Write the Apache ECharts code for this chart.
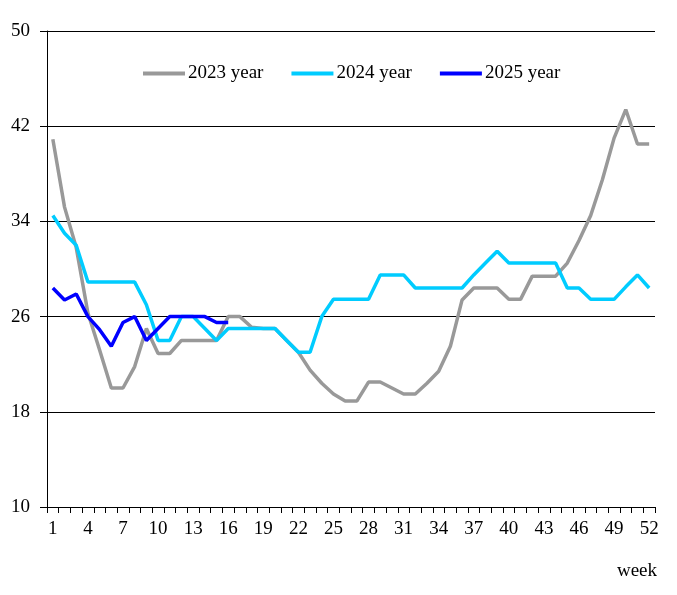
<!DOCTYPE html>
<html>
<head>
<meta charset="utf-8">
<title>Weekly chart</title>
<script src="https://cdn.jsdelivr.net/npm/echarts@6/dist/echarts.min.js"></script>
<style>
  html, body { margin: 0; padding: 0; background: #fff; }
  #chartmain { width: 677px; height: 595px; }
</style>
</head>
<body>
<div id="chartmain"></div>
<script>
var weeks = [];
for (var w = 1; w <= 52; w++) { weeks.push(String(w)); }

var year2023 = [40.9, 35.2, 31.8, 26.3, 23.2, 20.0, 20.0, 21.8, 25.0, 22.9, 22.9, 24.0, 24.0, 24.0, 24.0, 26.0,
    26.0, 25.1, 25.0, 25.0, 24.0, 23.0, 21.5, 20.4, 19.5, 18.9, 18.9, 20.5, 20.5, 20.0, 19.5, 19.5,
    20.4, 21.4, 23.5, 27.4, 28.4, 28.4, 28.4, 27.45, 27.45, 29.4, 29.4, 29.4, 30.5, 32.4, 34.5, 37.5,
    41.0, 43.4, 40.5, 40.5];
var year2024 = [34.5, 33.0, 32.0, 28.9, 28.9, 28.9, 28.9, 28.9, 27.0, 24.0, 24.0, 26.0, 26.0, 25.0, 24.0, 25.0,
    25.0, 25.0, 25.0, 25.0, 24.0, 23.0, 23.0, 26.0, 27.45, 27.45, 27.45, 27.45, 29.5, 29.5, 29.5, 28.4,
    28.4, 28.4, 28.4, 28.4, 29.5, 30.5, 31.5, 30.5, 30.5, 30.5, 30.5, 30.5, 28.4, 28.4, 27.45, 27.45,
    27.45, 28.5, 29.5, 28.4];
var year2025 = [28.4, 27.4, 27.9, 26.0, 24.9, 23.5, 25.5, 26.0, 24.0, 25.0, 26.0, 26.0, 26.0, 26.0, 25.5, 25.5];

var seriesNames = ['2023 year', '2024 year', '2025 year'];
var seriesColors = ['#999999', '#00CCFF', '#0000FF'];

var font = '"Liberation Serif", "Times New Roman", serif';

var chart = echarts.init(document.getElementById('chartmain'), null, { renderer: 'canvas' });

function lineSeries(idx, data) {
    return {
        name: seriesNames[idx],
        type: 'line',
        data: data,
        symbol: 'none',
        z: 2 + idx,
        lineStyle: { width: 3.5, color: seriesColors[idx] },
        itemStyle: { color: seriesColors[idx] }
    };
}

chart.setOption({
    animation: false,
    textStyle: { fontFamily: font },
    grid: { left: 47, right: 22, top: 31, bottom: 88, containLabel: false },
    legend: {
        data: seriesNames,
        left: 143,
        top: 64,
        padding: 0,
        icon: 'rect',
        itemWidth: 42,
        itemHeight: 4,
        itemGap: 28,
        textStyle: { fontFamily: font, fontSize: 19, color: '#000', padding: [0, 0, 0, -2] }
    },
    xAxis: {
        type: 'category',
        data: weeks,
        boundaryGap: true,
        axisLine: { lineStyle: { color: '#000', width: 1 } },
        axisTick: { show: true, length: 6, interval: 0, lineStyle: { color: '#000' } },
        axisLabel: { interval: 2, margin: 13, fontFamily: font, fontSize: 19, color: '#000' },
        splitLine: { show: false }
    },
    yAxis: {
        type: 'value',
        min: 10,
        max: 50,
        interval: 8,
        axisLine: { show: true, lineStyle: { color: '#000', width: 1 } },
        axisTick: { show: true, length: 7, lineStyle: { color: '#000' } },
        axisLabel: { margin: 17, fontFamily: font, fontSize: 19, color: '#000' },
        splitLine: { show: true, lineStyle: { color: '#000', width: 1 } }
    },
    graphic: [{
        type: 'text',
        right: 20,
        top: 562,
        style: { text: 'week', font: '19px ' + font, fill: '#000' }
    }],
    series: [
        lineSeries(0, year2023),
        lineSeries(1, year2024),
        lineSeries(2, year2025)
    ]
});
</script>
</body>
</html>
